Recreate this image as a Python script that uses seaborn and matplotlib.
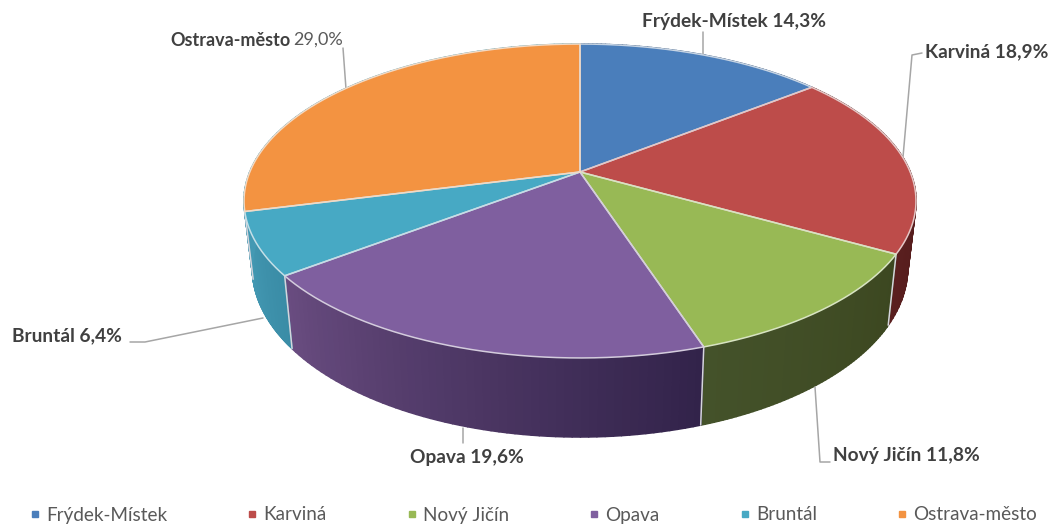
import numpy as np
import matplotlib
matplotlib.use("Agg")
import matplotlib.pyplot as plt
from matplotlib.collections import PolyCollection
from matplotlib.lines import Line2D
import seaborn as sns

districts = ["Frýdek-Místek", "Karviná", "Nový Jičín", "Opava", "Bruntál", "Ostrava-město"]
shares = [14.3, 18.9, 11.8, 19.6, 6.4, 29.0]
share_labels = ["14,3%", "18,9%", "11,8%", "19,6%", "6,4%", "29,0%"]

top_colors = ["#4a7ebb", "#bd4c4a", "#98b955", "#7f5f9f", "#47a9c4", "#f39341"]
# the far left edge of the wall reads as teal in the picture, so the last wedge uses it too
wall_left = ["#2c4a70", "#5a1f1f", "#44522a", "#694c80", "#4499b3", "#4499b3"]
wall_right = ["#2c4a70", "#481616", "#3c4720", "#32234a", "#3a8ca6", "#4499b3"]

sns.set_theme(style="white")
plt.rcParams["font.family"] = ["Lato", "DejaVu Sans"]

# pie geometry in pixels, the disc is seen in perspective
cx, cy = 580, 172
persp = 0.1847
ax_y, ax_x = 151.6, 330.2


def rim(phi):
    w = 1 + persp * np.cos(phi)
    return ax_x * np.sin(phi) / w, -ax_y * np.cos(phi) / w


def lower_rim(phi):
    x, y = rim(phi)
    return 0.975 * x, 64.7 + 1.077 * y


fig = plt.figure(figsize=(10.55, 5.31), dpi=100)
ax = fig.add_axes([0, 0, 1, 1])
ax.set_xlim(0, 1055)
ax.set_ylim(531, 0)
ax.axis("off")

edges = np.cumsum([0] + shares) / sum(shares) * 2 * np.pi

# side walls first, split in thin strips for the shading
for i in range(len(shares)):
    phis = np.linspace(edges[i], edges[i + 1], 60)
    c0 = np.array(matplotlib.colors.to_rgb(wall_left[i]))
    c1 = np.array(matplotlib.colors.to_rgb(wall_right[i]))
    polys, cols = [], []
    for a, b, t in zip(phis[:-1], phis[1:], np.linspace(1, 0, 59)):
        xa, ya = rim(a)
        xb, yb = rim(b)
        xc, yc = lower_rim(b)
        xd, yd = lower_rim(a)
        polys.append([(cx + xa, cy + ya), (cx + xb, cy + yb), (cx + xc, cy + yc), (cx + xd, cy + yd)])
        cols.append(c0 + (c1 - c0) * t)
    ax.add_collection(PolyCollection(polys, facecolors=cols, edgecolors=cols, linewidths=1.2, zorder=1))

# seams on the front wall
for phi in edges[1:-1]:
    if np.cos(phi) < 0.1:
        xa, ya = rim(phi)
        xb, yb = lower_rim(phi)
        ax.plot([cx + xa, cx + xb], [cy + ya, cy + yb], color="#d5d5dc", lw=1.1, zorder=2)

# top face
for i in range(len(shares)):
    phis = np.linspace(edges[i], edges[i + 1], 200)
    x, y = rim(phis)
    ax.fill(np.r_[cx, cx + x], np.r_[cy, cy + y], color=top_colors[i], lw=0, zorder=3)
    ax.plot(np.r_[cx, cx + x, cx], np.r_[cy, cy + y, cy],
            color=sns.light_palette(top_colors[i], 5)[1], lw=1.1, zorder=4)

# leader lines
leaders = [
    ([703, 703], [32, 55]),
    ([922, 912, 903], [53, 55, 157]),
    ([815, 820, 830], [387, 462, 462]),
    ([463, 463], [428, 443]),
    ([130, 145, 263], [342, 342, 318]),
    ([343, 346], [48, 89]),
]
for lx, ly in leaders:
    ax.plot(lx, ly, color="#a6a6a6", lw=1.1, zorder=2)

# data labels
label_pos = [(642, 22), (925, 52), (833, 456), (410, 458), (12, 336)]
for i, (lx, ly) in enumerate(label_pos):
    ax.text(lx, ly, districts[i] + " " + share_labels[i], fontsize=13.8, fontweight="bold",
            color="#404040", va="center", ha="left")
ax.text(170, 40, districts[5], fontsize=13, fontweight="bold", color="#404040", va="center", ha="left")
ax.text(293, 40, share_labels[5], fontsize=13, color="#595959", va="center", ha="left")

handles = [Line2D([], [], ls="", marker="s", ms=4.5, color=c) for c in top_colors]
ax.legend(handles, districts, ncol=6, loc="center", bbox_to_anchor=(534 / 1055, 1 - 515 / 531),
          frameon=False, fontsize=13.6, labelcolor="#595959", columnspacing=4.3,
          handlelength=0.4, handletextpad=0.4, borderpad=0, borderaxespad=0)

fig.savefig("out.png", dpi=100, facecolor="white")
